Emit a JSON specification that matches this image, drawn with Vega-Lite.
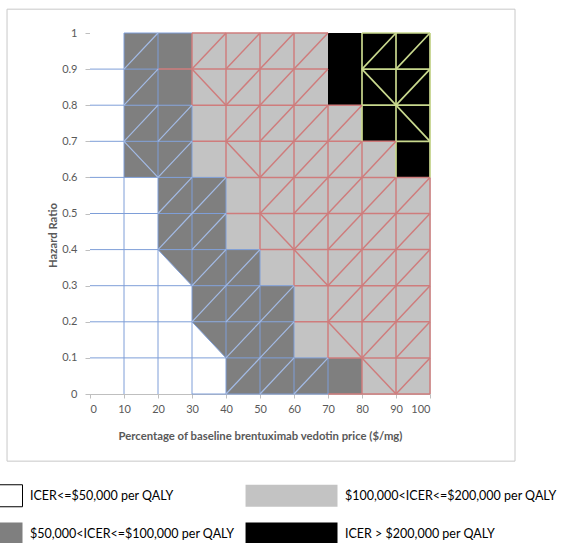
{
  "$schema": "https://vega.github.io/schema/vega-lite/v6.json",
  "width": 340,
  "height": 361,
  "autosize": {"type": "none"},
  "padding": {"left": 90, "top": 33, "right": 133, "bottom": 149},
  "background": "white",
  "config": {
    "view": {"stroke": "#D9D9D9"},
    "font": "Lato",
    "axisX": {
      "values": [0,10,20,30,40,50,60,70,80,90,100],
      "grid": false, "domainColor": "#BFBFBF", "tickColor": "#BFBFBF", "tickSize": 4,
      "labelPadding": 5, "labelFontSize": 11, "labelColor": "#595959", "labelFont": "Lato",
      "titleFontSize": 11.3, "titleFontWeight": "bold", "titleColor": "#595959", "titleFont": "Lato", "titlePadding": 16
    },
    "axisY": {
      "values": [0,0.1,0.2,0.3,0.4,0.5,0.6,0.7,0.8,0.9,1],
      "format": "~g",
      "grid": false, "domainColor": "#BFBFBF", "tickColor": "#BFBFBF", "tickSize": 5,
      "labelPadding": 8, "labelFontSize": 11, "labelColor": "#595959", "labelFont": "Lato",
      "titleFontSize": 11.3, "titleFontWeight": "bold", "titleColor": "#595959", "titleFont": "Lato",
      "titleX": -32, "titleY": 202
    }
  },
  "datasets": {
    "cells": [
      {"x":0,"x2":10,"y":0.9,"y2":1,"c":"W"},{"x":10,"x2":20,"y":0.9,"y2":1,"c":"D"},{"x":20,"x2":30,"y":0.9,"y2":1,"c":"D"},{"x":30,"x2":40,"y":0.9,"y2":1,"c":"L"},{"x":40,"x2":50,"y":0.9,"y2":1,"c":"L"},{"x":50,"x2":60,"y":0.9,"y2":1,"c":"L"},{"x":60,"x2":70,"y":0.9,"y2":1,"c":"L"},{"x":70,"x2":80,"y":0.9,"y2":1,"c":"B"},{"x":80,"x2":90,"y":0.9,"y2":1,"c":"B"},{"x":90,"x2":100,"y":0.9,"y2":1,"c":"B"},
      {"x":0,"x2":10,"y":0.8,"y2":0.9,"c":"W"},{"x":10,"x2":20,"y":0.8,"y2":0.9,"c":"D"},{"x":20,"x2":30,"y":0.8,"y2":0.9,"c":"D"},{"x":30,"x2":40,"y":0.8,"y2":0.9,"c":"L"},{"x":40,"x2":50,"y":0.8,"y2":0.9,"c":"L"},{"x":50,"x2":60,"y":0.8,"y2":0.9,"c":"L"},{"x":60,"x2":70,"y":0.8,"y2":0.9,"c":"L"},{"x":70,"x2":80,"y":0.8,"y2":0.9,"c":"B"},{"x":80,"x2":90,"y":0.8,"y2":0.9,"c":"B"},{"x":90,"x2":100,"y":0.8,"y2":0.9,"c":"B"},
      {"x":0,"x2":10,"y":0.7,"y2":0.8,"c":"W"},{"x":10,"x2":20,"y":0.7,"y2":0.8,"c":"D"},{"x":20,"x2":30,"y":0.7,"y2":0.8,"c":"D"},{"x":30,"x2":40,"y":0.7,"y2":0.8,"c":"L"},{"x":40,"x2":50,"y":0.7,"y2":0.8,"c":"L"},{"x":50,"x2":60,"y":0.7,"y2":0.8,"c":"L"},{"x":60,"x2":70,"y":0.7,"y2":0.8,"c":"L"},{"x":70,"x2":80,"y":0.7,"y2":0.8,"c":"L"},{"x":80,"x2":90,"y":0.7,"y2":0.8,"c":"B"},{"x":90,"x2":100,"y":0.7,"y2":0.8,"c":"B"},
      {"x":0,"x2":10,"y":0.6,"y2":0.7,"c":"W"},{"x":10,"x2":20,"y":0.6,"y2":0.7,"c":"D"},{"x":20,"x2":30,"y":0.6,"y2":0.7,"c":"D"},{"x":30,"x2":40,"y":0.6,"y2":0.7,"c":"L"},{"x":40,"x2":50,"y":0.6,"y2":0.7,"c":"L"},{"x":50,"x2":60,"y":0.6,"y2":0.7,"c":"L"},{"x":60,"x2":70,"y":0.6,"y2":0.7,"c":"L"},{"x":70,"x2":80,"y":0.6,"y2":0.7,"c":"L"},{"x":80,"x2":90,"y":0.6,"y2":0.7,"c":"L"},{"x":90,"x2":100,"y":0.6,"y2":0.7,"c":"B"},
      {"x":0,"x2":10,"y":0.5,"y2":0.6,"c":"W"},{"x":10,"x2":20,"y":0.5,"y2":0.6,"c":"W"},{"x":20,"x2":30,"y":0.5,"y2":0.6,"c":"D"},{"x":30,"x2":40,"y":0.5,"y2":0.6,"c":"D"},{"x":40,"x2":50,"y":0.5,"y2":0.6,"c":"L"},{"x":50,"x2":60,"y":0.5,"y2":0.6,"c":"L"},{"x":60,"x2":70,"y":0.5,"y2":0.6,"c":"L"},{"x":70,"x2":80,"y":0.5,"y2":0.6,"c":"L"},{"x":80,"x2":90,"y":0.5,"y2":0.6,"c":"L"},{"x":90,"x2":100,"y":0.5,"y2":0.6,"c":"L"},
      {"x":0,"x2":10,"y":0.4,"y2":0.5,"c":"W"},{"x":10,"x2":20,"y":0.4,"y2":0.5,"c":"W"},{"x":20,"x2":30,"y":0.4,"y2":0.5,"c":"D"},{"x":30,"x2":40,"y":0.4,"y2":0.5,"c":"D"},{"x":40,"x2":50,"y":0.4,"y2":0.5,"c":"L"},{"x":50,"x2":60,"y":0.4,"y2":0.5,"c":"L"},{"x":60,"x2":70,"y":0.4,"y2":0.5,"c":"L"},{"x":70,"x2":80,"y":0.4,"y2":0.5,"c":"L"},{"x":80,"x2":90,"y":0.4,"y2":0.5,"c":"L"},{"x":90,"x2":100,"y":0.4,"y2":0.5,"c":"L"},
      {"x":0,"x2":10,"y":0.3,"y2":0.4,"c":"W"},{"x":10,"x2":20,"y":0.3,"y2":0.4,"c":"W"},{"x":20,"x2":30,"y":0.3,"y2":0.4,"c":"W"},{"x":30,"x2":40,"y":0.3,"y2":0.4,"c":"D"},{"x":40,"x2":50,"y":0.3,"y2":0.4,"c":"D"},{"x":50,"x2":60,"y":0.3,"y2":0.4,"c":"L"},{"x":60,"x2":70,"y":0.3,"y2":0.4,"c":"L"},{"x":70,"x2":80,"y":0.3,"y2":0.4,"c":"L"},{"x":80,"x2":90,"y":0.3,"y2":0.4,"c":"L"},{"x":90,"x2":100,"y":0.3,"y2":0.4,"c":"L"},
      {"x":0,"x2":10,"y":0.2,"y2":0.3,"c":"W"},{"x":10,"x2":20,"y":0.2,"y2":0.3,"c":"W"},{"x":20,"x2":30,"y":0.2,"y2":0.3,"c":"W"},{"x":30,"x2":40,"y":0.2,"y2":0.3,"c":"D"},{"x":40,"x2":50,"y":0.2,"y2":0.3,"c":"D"},{"x":50,"x2":60,"y":0.2,"y2":0.3,"c":"D"},{"x":60,"x2":70,"y":0.2,"y2":0.3,"c":"L"},{"x":70,"x2":80,"y":0.2,"y2":0.3,"c":"L"},{"x":80,"x2":90,"y":0.2,"y2":0.3,"c":"L"},{"x":90,"x2":100,"y":0.2,"y2":0.3,"c":"L"},
      {"x":0,"x2":10,"y":0.1,"y2":0.2,"c":"W"},{"x":10,"x2":20,"y":0.1,"y2":0.2,"c":"W"},{"x":20,"x2":30,"y":0.1,"y2":0.2,"c":"W"},{"x":30,"x2":40,"y":0.1,"y2":0.2,"c":"W"},{"x":40,"x2":50,"y":0.1,"y2":0.2,"c":"D"},{"x":50,"x2":60,"y":0.1,"y2":0.2,"c":"D"},{"x":60,"x2":70,"y":0.1,"y2":0.2,"c":"L"},{"x":70,"x2":80,"y":0.1,"y2":0.2,"c":"L"},{"x":80,"x2":90,"y":0.1,"y2":0.2,"c":"L"},{"x":90,"x2":100,"y":0.1,"y2":0.2,"c":"L"},
      {"x":0,"x2":10,"y":0,"y2":0.1,"c":"W"},{"x":10,"x2":20,"y":0,"y2":0.1,"c":"W"},{"x":20,"x2":30,"y":0,"y2":0.1,"c":"W"},{"x":30,"x2":40,"y":0,"y2":0.1,"c":"W"},{"x":40,"x2":50,"y":0,"y2":0.1,"c":"D"},{"x":50,"x2":60,"y":0,"y2":0.1,"c":"D"},{"x":60,"x2":70,"y":0,"y2":0.1,"c":"D"},{"x":70,"x2":80,"y":0,"y2":0.1,"c":"D"},{"x":80,"x2":90,"y":0,"y2":0.1,"c":"L"},{"x":90,"x2":100,"y":0,"y2":0.1,"c":"L"}
    ],
    "tris": [
      {"t":1,"x":20,"y":0.4,"y2":0.4},{"t":1,"x":30,"y":0.4,"y2":0.3},
      {"t":2,"x":30,"y":0.2,"y2":0.2},{"t":2,"x":40,"y":0.2,"y2":0.1}
    ],
    "segs": [
      {"x":30,"x2":70,"y":0,"y2":0,"k":"b"},{"x":70,"x2":100,"y":0,"y2":0,"k":"r"},
      {"x":0,"x2":70,"y":0.1,"y2":0.1,"k":"b"},{"x":70,"x2":100,"y":0.1,"y2":0.1,"k":"r"},
      {"x":0,"x2":60,"y":0.2,"y2":0.2,"k":"b"},{"x":60,"x2":100,"y":0.2,"y2":0.2,"k":"r"},
      {"x":0,"x2":60,"y":0.3,"y2":0.3,"k":"b"},{"x":60,"x2":100,"y":0.3,"y2":0.3,"k":"r"},
      {"x":0,"x2":50,"y":0.4,"y2":0.4,"k":"b"},{"x":50,"x2":100,"y":0.4,"y2":0.4,"k":"r"},
      {"x":0,"x2":40,"y":0.5,"y2":0.5,"k":"b"},{"x":40,"x2":100,"y":0.5,"y2":0.5,"k":"r"},
      {"x":0,"x2":40,"y":0.6,"y2":0.6,"k":"b"},{"x":40,"x2":100,"y":0.6,"y2":0.6,"k":"r"},
      {"x":0,"x2":30,"y":0.7,"y2":0.7,"k":"b"},{"x":30,"x2":90,"y":0.7,"y2":0.7,"k":"r"},{"x":90,"x2":100,"y":0.7,"y2":0.7,"k":"g"},
      {"x":0,"x2":30,"y":0.8,"y2":0.8,"k":"b"},{"x":30,"x2":80,"y":0.8,"y2":0.8,"k":"r"},{"x":80,"x2":100,"y":0.8,"y2":0.8,"k":"g"},
      {"x":0,"x2":20,"y":0.9,"y2":0.9,"k":"b"},{"x":20,"x2":70,"y":0.9,"y2":0.9,"k":"r"},{"x":80,"x2":100,"y":0.9,"y2":0.9,"k":"g"},
      {"x":10,"x2":30,"y":1,"y2":1,"k":"b"},{"x":30,"x2":70,"y":1,"y2":1,"k":"r"},{"x":80,"x2":100,"y":1,"y2":1,"k":"g"},
      {"x":10,"x2":10,"y":0,"y2":1,"k":"b"},
      {"x":20,"x2":20,"y":0,"y2":1,"k":"b"},
      {"x":30,"x2":30,"y":0,"y2":0.8,"k":"b"},{"x":30,"x2":30,"y":0.8,"y2":1,"k":"r"},
      {"x":40,"x2":40,"y":0,"y2":0.6,"k":"b"},{"x":40,"x2":40,"y":0.6,"y2":1,"k":"r"},
      {"x":50,"x2":50,"y":0,"y2":0.4,"k":"b"},{"x":50,"x2":50,"y":0.4,"y2":1,"k":"r"},
      {"x":60,"x2":60,"y":0,"y2":0.3,"k":"b"},{"x":60,"x2":60,"y":0.3,"y2":1,"k":"r"},
      {"x":70,"x2":70,"y":0,"y2":0.1,"k":"b"},{"x":70,"x2":70,"y":0.1,"y2":0.8,"k":"r"},
      {"x":80,"x2":80,"y":0,"y2":0.7,"k":"r"},{"x":80,"x2":80,"y":0.7,"y2":1,"k":"g"},
      {"x":90,"x2":90,"y":0,"y2":0.6,"k":"r"},{"x":90,"x2":90,"y":0.6,"y2":1,"k":"g"},
      {"x":100,"x2":100,"y":0,"y2":0.6,"k":"r"},{"x":100,"x2":100,"y":0.6,"y2":1,"k":"g"},

      {"x":10,"x2":20,"y":0.9,"y2":1,"k":"lb"},{"x":30,"x2":40,"y":0.9,"y2":1,"k":"r"},{"x":40,"x2":50,"y":0.9,"y2":1,"k":"r"},{"x":50,"x2":60,"y":0.9,"y2":1,"k":"r"},{"x":60,"x2":70,"y":0.9,"y2":1,"k":"r"},{"x":80,"x2":90,"y":0.9,"y2":1,"k":"g"},{"x":90,"x2":100,"y":0.9,"y2":1,"k":"g"},
      {"x":10,"x2":20,"y":0.8,"y2":0.9,"k":"lb"},{"x":30,"x2":40,"y":0.9,"y2":0.8,"k":"r"},{"x":40,"x2":50,"y":0.8,"y2":0.9,"k":"r"},{"x":50,"x2":60,"y":0.8,"y2":0.9,"k":"r"},{"x":60,"x2":70,"y":0.8,"y2":0.9,"k":"r"},{"x":80,"x2":90,"y":0.9,"y2":0.8,"k":"g"},{"x":90,"x2":100,"y":0.8,"y2":0.9,"k":"g"},
      {"x":10,"x2":20,"y":0.7,"y2":0.8,"k":"lb"},{"x":20,"x2":30,"y":0.7,"y2":0.8,"k":"lb"},{"x":40,"x2":50,"y":0.7,"y2":0.8,"k":"r"},{"x":50,"x2":60,"y":0.7,"y2":0.8,"k":"r"},{"x":60,"x2":70,"y":0.7,"y2":0.8,"k":"r"},{"x":70,"x2":80,"y":0.7,"y2":0.8,"k":"r"},{"x":90,"x2":100,"y":0.8,"y2":0.7,"k":"g"},
      {"x":10,"x2":20,"y":0.7,"y2":0.6,"k":"lb"},{"x":20,"x2":30,"y":0.6,"y2":0.7,"k":"lb"},{"x":40,"x2":50,"y":0.7,"y2":0.6,"k":"r"},{"x":50,"x2":60,"y":0.6,"y2":0.7,"k":"r"},{"x":60,"x2":70,"y":0.6,"y2":0.7,"k":"r"},{"x":70,"x2":80,"y":0.6,"y2":0.7,"k":"r"},{"x":80,"x2":90,"y":0.6,"y2":0.7,"k":"r"},
      {"x":20,"x2":30,"y":0.5,"y2":0.6,"k":"lb"},{"x":30,"x2":40,"y":0.5,"y2":0.6,"k":"lb"},{"x":50,"x2":60,"y":0.5,"y2":0.6,"k":"r"},{"x":60,"x2":70,"y":0.5,"y2":0.6,"k":"r"},{"x":70,"x2":80,"y":0.5,"y2":0.6,"k":"r"},{"x":80,"x2":90,"y":0.5,"y2":0.6,"k":"r"},{"x":90,"x2":100,"y":0.5,"y2":0.6,"k":"r"},
      {"x":20,"x2":30,"y":0.4,"y2":0.5,"k":"lb"},{"x":30,"x2":40,"y":0.4,"y2":0.5,"k":"lb"},{"x":50,"x2":60,"y":0.5,"y2":0.4,"k":"r"},{"x":60,"x2":70,"y":0.4,"y2":0.5,"k":"r"},{"x":70,"x2":80,"y":0.4,"y2":0.5,"k":"r"},{"x":80,"x2":90,"y":0.4,"y2":0.5,"k":"r"},{"x":90,"x2":100,"y":0.4,"y2":0.5,"k":"r"},
      {"x":20,"x2":30,"y":0.4,"y2":0.3,"k":"b"},{"x":30,"x2":40,"y":0.3,"y2":0.4,"k":"lb"},{"x":40,"x2":50,"y":0.3,"y2":0.4,"k":"lb"},{"x":60,"x2":70,"y":0.4,"y2":0.3,"k":"r"},{"x":70,"x2":80,"y":0.3,"y2":0.4,"k":"r"},{"x":80,"x2":90,"y":0.3,"y2":0.4,"k":"r"},{"x":90,"x2":100,"y":0.3,"y2":0.4,"k":"r"},
      {"x":30,"x2":40,"y":0.2,"y2":0.3,"k":"lb"},{"x":40,"x2":50,"y":0.2,"y2":0.3,"k":"lb"},{"x":50,"x2":60,"y":0.2,"y2":0.3,"k":"lb"},{"x":70,"x2":80,"y":0.2,"y2":0.3,"k":"r"},{"x":80,"x2":90,"y":0.2,"y2":0.3,"k":"r"},{"x":90,"x2":100,"y":0.2,"y2":0.3,"k":"r"},
      {"x":30,"x2":40,"y":0.2,"y2":0.1,"k":"b"},{"x":40,"x2":50,"y":0.1,"y2":0.2,"k":"lb"},{"x":50,"x2":60,"y":0.1,"y2":0.2,"k":"lb"},{"x":70,"x2":80,"y":0.2,"y2":0.1,"k":"r"},{"x":80,"x2":90,"y":0.1,"y2":0.2,"k":"r"},{"x":90,"x2":100,"y":0.1,"y2":0.2,"k":"r"},
      {"x":40,"x2":50,"y":0,"y2":0.1,"k":"lb"},{"x":50,"x2":60,"y":0,"y2":0.1,"k":"lb"},{"x":60,"x2":70,"y":0,"y2":0.1,"k":"lb"},{"x":80,"x2":90,"y":0.1,"y2":0,"k":"r"},{"x":90,"x2":100,"y":0,"y2":0.1,"k":"r"}
    ]
  },
  "layer": [
    {
      "data": {"values": [{"frame": 1}]},
      "mark": {"type": "rect", "fill": "transparent", "stroke": "#C8C8C8", "strokeWidth": 1, "clip": false},
      "encoding": {
        "x": {"datum": -24.4, "type": "quantitative", "scale": {"domain": [0, 100], "nice": false, "zero": false}, "title": "Percentage of baseline brentuximab vedotin price ($/mg)"},
        "x2": {"datum": 125},
        "y": {"datum": 1.066, "type": "quantitative", "scale": {"domain": [0, 1], "nice": false, "zero": false}, "title": "Hazard Ratio"},
        "y2": {"datum": -0.186}
      }
    },
    {
      "data": {"name": "cells"},
      "mark": {"type": "rect", "strokeWidth": 0},
      "encoding": {
        "x": {"field": "x", "type": "quantitative", "scale": {"domain": [0, 100], "nice": false, "zero": false}, "title": "Percentage of baseline brentuximab vedotin price ($/mg)"},
        "y": {"field": "y", "type": "quantitative", "scale": {"domain": [0, 1], "nice": false, "zero": false}, "title": "Hazard Ratio"},
        "x2": {"field": "x2"},
        "y2": {"field": "y2"},
        "fill": {
          "field": "c", "type": "nominal",
          "scale": {"domain": ["W","D","L","B"], "range": ["#FFFFFF","#7F7F7F","#C3C3C3","#000000"]},
          "legend": {
            "orient": "none", "legendX": -90, "legendY": 451,
            "columns": 2, "title": null, "padding": 0,
            "symbolType": "M-7.36,-1H1V1H-7.36Z", "symbolSize": 484,
            "symbolStrokeWidth": 1,
            "labelOffset": 7, "labelFontSize": 12.5, "labelColor": "#000000", "labelFont": "Lato", "labelLimit": 0,
            "columnPadding": 8, "rowPadding": 11,
            "labelExpr": "datum.label == 'W' ? 'ICER<=$50,000 per QALY' : datum.label == 'L' ? '$100,000<ICER<=$200,000 per QALY' : datum.label == 'D' ? '$50,000<ICER<=$100,000 per QALY' : 'ICER > $200,000 per QALY'",
            "encode": {
              "symbols": {
                "update": {
                  "stroke": [{"test": "datum.value === 'W'", "value": "#000000"}, {"value": "transparent"}],
                  "strokeWidth": {"value": 1},
                  "opacity": {"value": 1}
                }
              }
            }
          }
        }
      }
    },
    {
      "data": {"name": "tris"},
      "mark": {"type": "area", "color": "#7F7F7F", "opacity": 1},
      "encoding": {
        "x": {"field": "x", "type": "quantitative", "scale": {"domain": [0, 100], "nice": false, "zero": false}, "title": "Percentage of baseline brentuximab vedotin price ($/mg)"},
        "y": {"field": "y", "type": "quantitative", "scale": {"domain": [0, 1], "nice": false, "zero": false}, "title": "Hazard Ratio"},
        "y2": {"field": "y2"},
        "detail": {"field": "t", "type": "nominal"}
      }
    },
    {
      "data": {"name": "segs"},
      "mark": {"type": "rule"},
      "encoding": {
        "x": {"field": "x", "type": "quantitative", "scale": {"domain": [0, 100], "nice": false, "zero": false}, "title": "Percentage of baseline brentuximab vedotin price ($/mg)"},
        "y": {"field": "y", "type": "quantitative", "scale": {"domain": [0, 1], "nice": false, "zero": false}, "title": "Hazard Ratio"},
        "x2": {"field": "x2"},
        "y2": {"field": "y2"},
        "stroke": {
          "field": "k", "type": "nominal",
          "scale": {"domain": ["b","lb","r","g"], "range": ["#7E9ED8","#A3BBE6","#CF7C7C","#C9D98E"]},
          "legend": null
        },
        "strokeWidth": {
          "field": "k", "type": "nominal",
          "scale": {"domain": ["b","lb","r","g"], "range": [1, 1.7, 1, 1.2]},
          "legend": null
        }
      }
    }
  ]
}
